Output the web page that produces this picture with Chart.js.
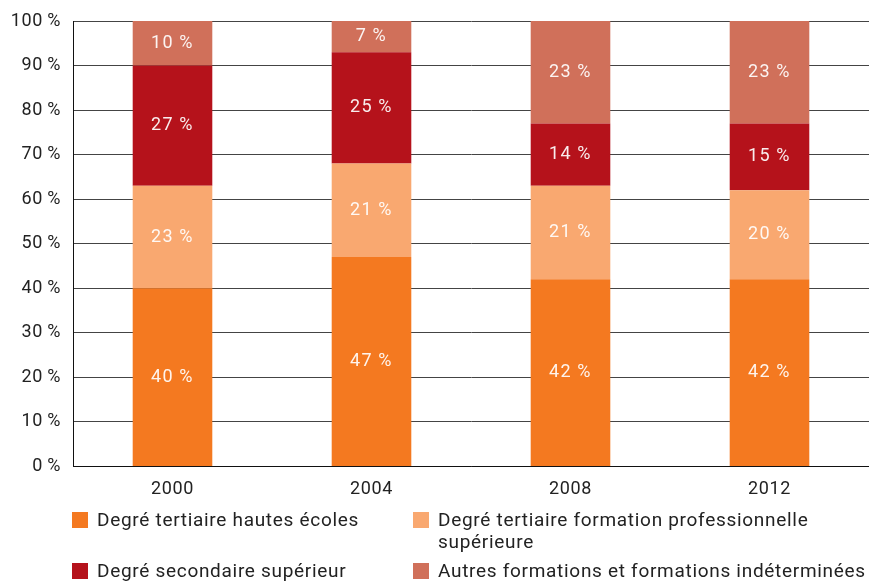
<!DOCTYPE html>
<html>
<head>
<meta charset="utf-8">
<script src="https://cdn.jsdelivr.net/npm/chart.js@4/dist/chart.umd.min.js"></script>
<style>
  html, body { margin: 0; padding: 0; background: #fff; }
  #wrap { position: relative; width: 869px; height: 581px; overflow: hidden; }
  #c { position: absolute; left: 0; top: 0; }
  .lg { position: absolute; font-family: Roboto, sans-serif; font-size: 19px; letter-spacing: 0.7px; color: #222; line-height: 22px; }
  .lg .sw { position: absolute; left: 0; top: 3px; width: 16px; height: 16px; }
  .lg .tx { position: absolute; left: 25px; top: 0; white-space: nowrap; }
</style>
</head>
<body>
<div id="wrap">
  <canvas id="c" width="869" height="581"></canvas>
</div>
<script>
const categories = ['2000', '2004', '2008', '2012'];
const seriesNames = [
  'Degré tertiaire hautes écoles',
  'Degré tertiaire formation professionnelle\nsupérieure',
  'Degré secondaire supérieur',
  'Autres formations et formations indéterminées'
];
const hautesEcoles = [40, 47, 42, 42];
const formationPro = [23, 21, 21, 20];
const secondaire = [27, 25, 14, 15];
const autres = [10, 7, 23, 23];
const yTicks = [0, 10, 20, 30, 40, 50, 60, 70, 80, 90, 100];
const colors = ['#F47920', '#F9A870', '#B5121B', '#D0705A'];

const seriesValues = [hautesEcoles, formationPro, secondaire, autres];

const spacingPlugin = {
  id: 'spacing',
  beforeInit(chart) { chart.ctx.letterSpacing = '0.6px'; },
  beforeDraw(chart) { chart.ctx.letterSpacing = '0.6px'; }
};

const labelPlugin = {
  id: 'barLabels',
  afterDatasetsDraw(chart) {
    const ctx = chart.ctx;
    ctx.save();
    ctx.letterSpacing = '1.5px';
    ctx.font = '18px Roboto, sans-serif';
    ctx.fillStyle = 'rgba(255,255,255,0.92)';
    ctx.textAlign = 'center';
    ctx.textBaseline = 'middle';
    chart.data.datasets.forEach((ds, i) => {
      const meta = chart.getDatasetMeta(i);
      meta.data.forEach((el, j) => {
        const v = ds.data[j];
        const cy = (el.y + el.base) / 2;
        ctx.fillText(v + '\u2009%', el.x, cy);
      });
    });
    ctx.restore();
  }
};

const chart = new Chart(document.getElementById('c'), {
  type: 'bar',
  data: {
    labels: categories,
    datasets: seriesValues.map((vals, i) => ({
      label: seriesNames[i],
      data: vals,
      backgroundColor: colors[i],
      borderWidth: 0,
      barPercentage: 0.4,
      categoryPercentage: 1.0
    }))
  },
  options: {
    responsive: false,
    animation: false,
    layout: { padding: { top: 12, right: 0, bottom: 69, left: 0 } },
    plugins: { legend: { display: false }, tooltip: { enabled: false } },
    scales: {
      x: {
        stacked: true,
        grid: { display: false, drawTicks: false },
        border: { display: true, color: '#111', width: 1 },
        ticks: { color: '#222', font: { family: 'Roboto, sans-serif', size: 18 }, padding: 12 }
      },
      y: {
        stacked: true,
        min: 0, max: 100,
        afterBuildTicks(scale) { scale.ticks = yTicks.map(v => ({ value: v })); },
        grid: { color: '#444', lineWidth: 1, drawTicks: false },
        border: { display: true, color: '#111', width: 1 },
        afterFit(scale) { scale.width = 73; },
        ticks: {
          color: '#222',
          font: { family: 'Roboto, sans-serif', size: 18, lineHeight: 1 },
          padding: 12,
          callback: v => v + '\u2009%'
        }
      }
    }
  },
  plugins: [spacingPlugin, labelPlugin]
});

// HTML legend built from series names and colours
const legendPos = [[72, 509], [413, 509], [72, 560], [413, 560]];
const wrap = document.getElementById('wrap');
seriesNames.forEach((name, i) => {
  const d = document.createElement('div');
  d.className = 'lg';
  d.style.left = legendPos[i][0] + 'px';
  d.style.top = legendPos[i][1] + 'px';
  const sw = document.createElement('div');
  sw.className = 'sw';
  sw.style.background = colors[i];
  const tx = document.createElement('div');
  tx.className = 'tx';
  tx.innerHTML = name.split('\n').join('<br>');
  d.appendChild(sw); d.appendChild(tx);
  wrap.appendChild(d);
});
</script>
</body>
</html>
